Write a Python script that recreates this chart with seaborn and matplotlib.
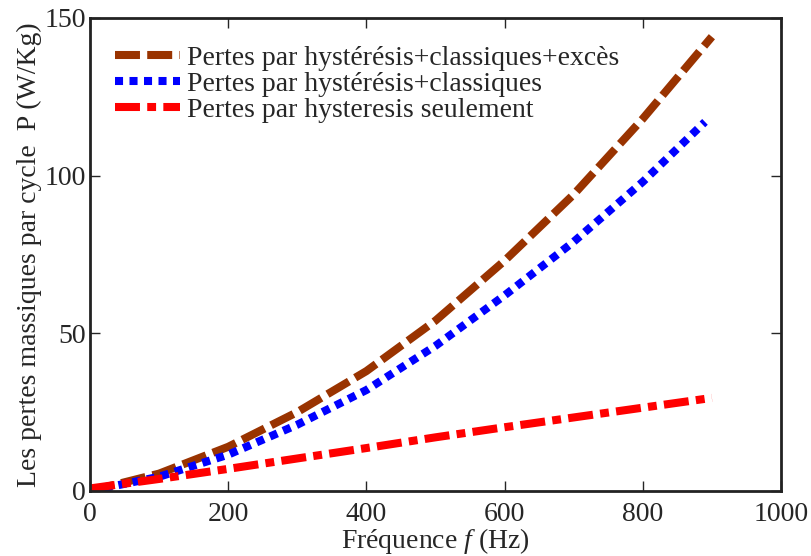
import numpy as np
import pandas as pd
import matplotlib
matplotlib.use("Agg")
import matplotlib.pyplot as plt
import seaborn as sns

freq_a = [0, 100, 200, 300, 400, 500, 600, 700, 800, 900]
p_total = [0, 5.5, 14, 25, 38, 54, 73, 94, 118, 144]
freq_b = [0, 100, 200, 300, 400, 500, 600, 700, 800, 890]
p_hyst_class = [0, 4.5, 11.5, 21, 32, 46, 62, 79, 98, 117]
freq_c = [0, 100, 200, 300, 400, 500, 600, 700, 800, 900]
p_hyst = [0.8, 3.8, 7, 10.3, 13.6, 17, 20.2, 23.3, 26.4, 29.5]

labels = ["Pertes par hystérésis+classiques+excès",
          "Pertes par hystérésis+classiques",
          "Pertes par hysteresis seulement"]

sns.set_style("ticks")
plt.rcParams['font.family'] = ['Liberation Serif', 'DejaVu Serif']
plt.rcParams['mathtext.fontset'] = 'custom'
plt.rcParams['mathtext.it'] = 'Liberation Serif:italic'
plt.rcParams['mathtext.rm'] = 'Liberation Serif'

fig = plt.figure(figsize=(8.11, 5.56), dpi=100)
ax = fig.add_axes([0.111, 0.117, 0.852, 0.851])

lw = 5.8
sns.lineplot(x=freq_a, y=p_total, ax=ax, color="#993300", lw=lw, label=labels[0])
sns.lineplot(x=freq_b, y=p_hyst_class, ax=ax, color="#0000FF", lw=lw, label=labels[1])
sns.lineplot(x=freq_c, y=p_hyst, ax=ax, color="#FF0000", lw=lw, label=labels[2])
dashes = [(3.1, 0.9), (1.0, 0.8), (3.1, 0.9, 1.1, 0.9)]
for ln, d in zip(ax.get_lines(), dashes):
    ln.set_dashes(d)
    ln.set_dash_capstyle("butt")

ax.set_xlim(0, 1000)
ax.set_ylim(0, 150)
ax.set_xticks([0, 200, 400, 600, 800, 1000])
ax.set_yticks([0, 50, 100, 150])
ax.tick_params(direction="in", top=True, right=True, labelsize=20, length=7, width=1)
ax.tick_params(axis="x", pad=8)
ax.tick_params(axis="y", pad=3)
for s in ax.spines.values():
    s.set_linewidth(2)
    s.set_color("#222222")

ax.set_xlabel("Fréquence $f$ (Hz)", fontsize=20, labelpad=-1)
ax.set_ylabel("Les pertes massiques par cycle  P (W/Kg)", fontsize=20, labelpad=2)

leg = ax.legend(loc="upper left", frameon=False, fontsize=20, handlelength=2.35,
                handletextpad=0.25, labelspacing=0.02, borderaxespad=0.0,
                bbox_to_anchor=(0.02, 0.965))
for h, d in zip(leg.get_lines(), dashes):
    h.set_linewidth(lw)
    h.set_dashes(d)
    h.set_dash_capstyle("butt")

fig.savefig("out.png", dpi=100)
